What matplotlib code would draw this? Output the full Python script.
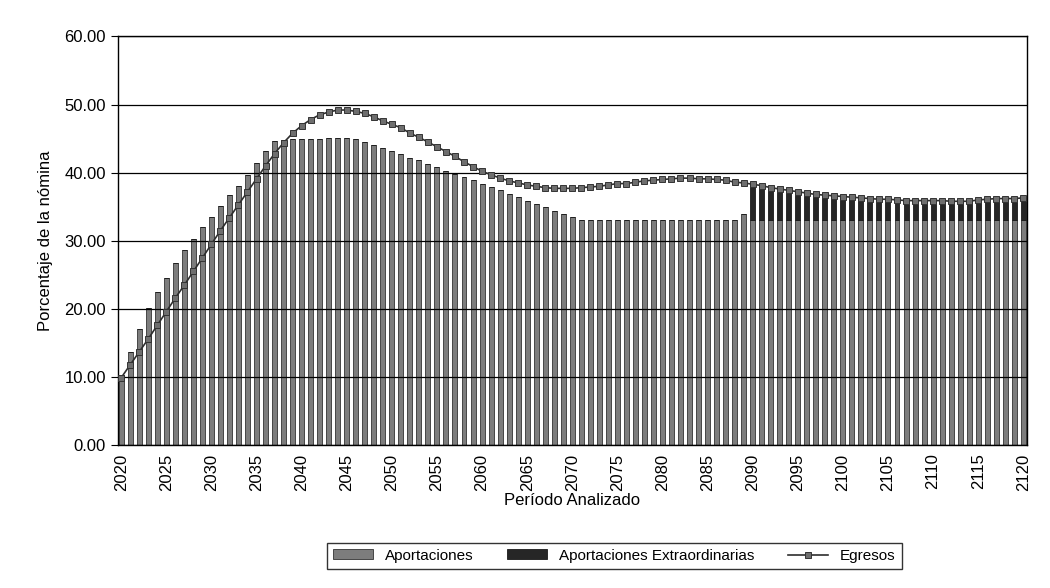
import matplotlib
matplotlib.use("Agg")
import matplotlib.pyplot as plt
import numpy as np

plt.rcParams['font.family'] = ['Liberation Sans', 'DejaVu Sans']

# years 2020..2120
years = list(range(2020, 2121))

# percentage of payroll - total outflows
egresos = [
    9.9, 11.8, 13.7, 15.6, 17.6, 19.6, 21.6, 23.5, 25.5, 27.5,
    29.5, 31.5, 33.4, 35.3, 37.2, 39.1, 41.0, 42.8, 44.4, 45.8,
    46.9, 47.8, 48.5, 48.9, 49.2, 49.2, 49.0, 48.7, 48.2, 47.6,
    47.1, 46.6, 45.8, 45.2, 44.5, 43.8, 43.1, 42.4, 41.6, 40.9,
    40.2, 39.7, 39.2, 38.8, 38.5, 38.2, 38.0, 37.8, 37.7, 37.7,
    37.7, 37.8, 37.9, 38.0, 38.2, 38.4, 38.4, 38.6, 38.8, 38.9,
    39.0, 39.1, 39.2, 39.2, 39.1, 39.1, 39.0, 38.9, 38.6, 38.5,
    38.3, 38.1, 37.8, 37.6, 37.4, 37.2, 37.0, 36.8, 36.7, 36.6,
    36.5, 36.4, 36.3, 36.2, 36.1, 36.1, 36.0, 35.9, 35.9, 35.9,
    35.9, 35.9, 35.8, 35.8, 35.8, 36.0, 36.1, 36.2, 36.2, 36.2,
    36.3,
]

# regular contributions
aportaciones = [
    10.3, 13.7, 17.1, 20.1, 22.5, 24.6, 26.8, 28.7, 30.3, 32.0,
    33.5, 35.1, 36.7, 38.1, 39.7, 41.4, 43.2, 44.6, 44.8, 44.9,
    45.0, 45.0, 45.0, 45.1, 45.1, 45.1, 45.0, 44.5, 44.0, 43.6,
    43.2, 42.8, 42.2, 41.8, 41.3, 40.8, 40.2, 39.8, 39.4, 38.9,
    38.4, 37.9, 37.4, 36.8, 36.4, 35.9, 35.4, 34.9, 34.4, 33.9,
    33.5, 33.0, 33.0, 33.0, 33.0, 33.0, 33.0, 33.0, 33.0, 33.0,
    33.0, 33.0, 33.0, 33.0, 33.0, 33.0, 33.0, 33.0, 33.0, 33.9,
    33.0, 33.0, 33.0, 33.0, 33.0, 33.0, 33.0, 33.0, 33.0, 33.0,
    33.0, 33.0, 33.0, 33.0, 33.0, 33.0, 33.0, 33.0, 33.0, 33.0,
    33.0, 33.0, 33.0, 33.0, 33.0, 33.0, 33.0, 33.0, 33.0, 33.0,
    33.0,
]

# extraordinary contributions (only from 2090 on)
extraordinarias = [0.0] * 70 + [
    5.3, 5.1, 4.8, 4.6, 4.4, 4.2, 4.0, 3.8, 3.7, 3.6,
    3.5, 3.4, 3.3, 3.2, 3.1, 3.1, 3.0, 2.9, 2.9, 2.9,
    2.9, 2.9, 2.8, 2.8, 2.8, 3.0, 3.1, 3.2, 3.2, 3.2,
    3.3,
]

fig = plt.figure(figsize=(10.5, 5.88), dpi=100)
ax = fig.add_axes([0.112, 0.243, 0.866, 0.695])

b1 = ax.bar(years, aportaciones, width=0.55, color='#7d7d7d', edgecolor='#333333',
            linewidth=0.6, label='Aportaciones', zorder=2)
b2 = ax.bar(years, extraordinarias, width=0.55, bottom=aportaciones, color='#262626',
            edgecolor='#1a1a1a', linewidth=0.6, label='Aportaciones Extraordinarias', zorder=2)
l1, = ax.plot(years, egresos, color='#2e2e2e', linewidth=1.2, marker='s', markersize=4.5,
              markerfacecolor='#6e6e6e', markeredgecolor='#333333', markeredgewidth=0.7,
              label='Egresos', zorder=3)

ax.set_ylim(0, 60)
ax.set_xlim(2019.6, 2120.4)
ax.set_yticks(np.arange(0, 61, 10))
ax.set_yticklabels([f'{v:.2f}' for v in range(0, 61, 10)], fontsize=12)
# gridlines drawn across the bars, below the Egresos line
ax.set_axisbelow(False)
ax.grid(axis='y', color='black', linewidth=0.9)

# labels every 5 years, tick marks every 10 years
ax.set_xticks(range(2020, 2121, 5))
ax.set_xticklabels([str(y) for y in range(2020, 2121, 5)], rotation=90, fontsize=12)
ax.tick_params(axis='x', which='major', length=0, pad=6)
ax.set_xticks(range(2020, 2121, 10), minor=True)
ax.tick_params(axis='x', which='minor', length=5, direction='out', color='black')
ax.tick_params(axis='y', length=5, direction='out', color='black')

for s in ax.spines.values():
    s.set_color('black')
    s.set_linewidth(1.0)

ax.set_xlabel('Período Analizado', fontsize=12, labelpad=2)
ax.set_ylabel('Porcentaje de la nómina', fontsize=12, labelpad=8)

leg = fig.legend([b1, b2, l1], ['Aportaciones', 'Aportaciones Extraordinarias', 'Egresos'],
                 loc='center', bbox_to_anchor=(0.585, 0.055), ncol=3, fontsize=11,
                 frameon=True, fancybox=False, edgecolor='black', borderpad=0.4,
                 handlelength=2.6, handleheight=0.6, columnspacing=2.2)
leg.get_frame().set_linewidth(1.0)

fig.savefig('out.png', dpi=100)
